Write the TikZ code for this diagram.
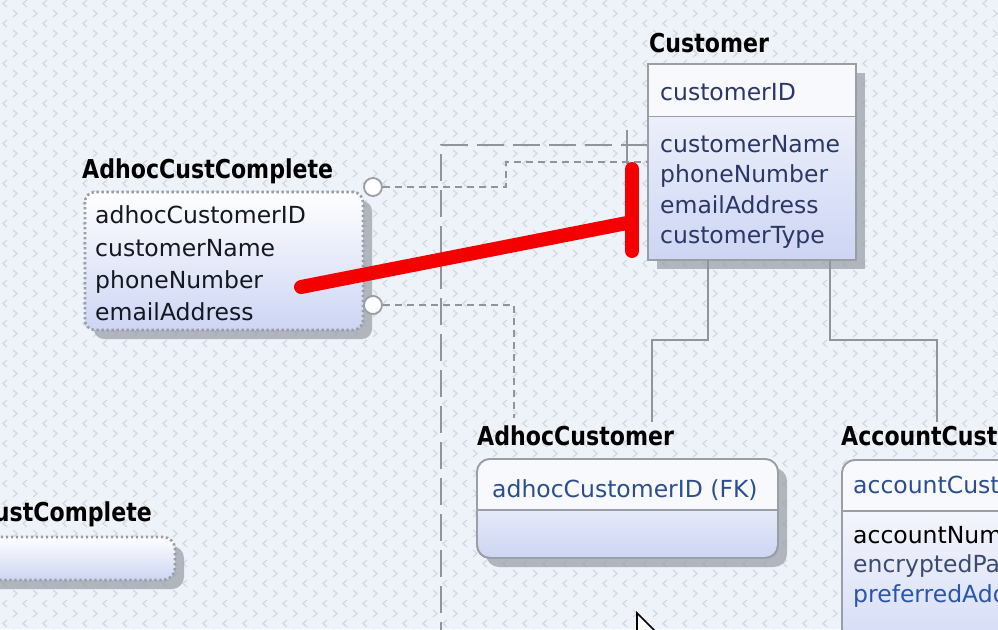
\documentclass[tikz,border=0pt]{standalone}
\usepackage{fontspec}
\setmainfont{DejaVu Sans}
\newfontfamily\titlefont[FakeStretch=0.85]{DejaVu Sans Bold}
\usetikzlibrary{shadows,patterns}

\definecolor{bgc}{HTML}{EEF3F9}
\definecolor{chevc}{HTML}{D2D8E1}
\definecolor{boxc}{HTML}{999EA7}
\definecolor{shadc}{HTML}{9DA1AA}
\definecolor{linec}{HTML}{8F949D}
\definecolor{navy}{HTML}{2B3766}
\definecolor{fkblue}{HTML}{2D4E8E}
\definecolor{pblue}{HTML}{2A56A8}
\definecolor{encc}{HTML}{3B4B70}
\definecolor{inkc}{HTML}{141820}
\definecolor{redc}{HTML}{F40000}
\definecolor{keyc}{HTML}{F8F9FD}
\definecolor{gradtop}{HTML}{F7F9FE}
\definecolor{gradbot}{HTML}{CDD5F3}

\pgfdeclarepatternformonly{chevrons}{\pgfqpoint{-1pt}{-1pt}}{\pgfqpoint{21pt}{21pt}}{\pgfqpoint{20pt}{20pt}}{%
  \pgfsetlinewidth{1.2pt}%
  \pgfpathmoveto{\pgfqpoint{7pt}{2pt}}\pgfpathlineto{\pgfqpoint{3pt}{5.5pt}}\pgfpathlineto{\pgfqpoint{7pt}{9pt}}%
  \pgfpathmoveto{\pgfqpoint{13pt}{12pt}}\pgfpathlineto{\pgfqpoint{17pt}{15.5pt}}\pgfpathlineto{\pgfqpoint{13pt}{19pt}}%
  \pgfusepath{stroke}}

\begin{document}
\begin{tikzpicture}[x=1pt,y=-1pt,
  ttl/.style={font=\titlefont\fontsize{26}{30}\selectfont, anchor=base west, inner sep=0pt, text=black},
  att/.style={font=\fontsize{23.5}{30}\selectfont, anchor=base west, inner sep=0pt, text=navy},
  entbox/.style={draw=boxc, line width=1.8pt, anchor=north west, inner sep=0pt, outer sep=0pt,
     top color=gradtop, bottom color=gradbot,
     drop shadow={shadow xshift=9pt, shadow yshift=-9pt, fill=shadc, opacity=0.75}},
  dotbox/.style={entbox, draw=none},
  dotedge/.style={draw=boxc, line width=2.6pt, dash pattern=on 2.4pt off 2.6pt},
  rel/.style={draw=linec, line width=1.8pt},
  sdash/.style={draw=linec, line width=1.8pt, dash pattern=on 7pt off 5pt},
  ldash/.style={draw=linec, line width=2.4pt, dash pattern=on 27pt off 9pt},
  redmark/.style={draw=redc, line width=14pt, line cap=round},
  port/.style={circle, draw=boxc, fill=white, line width=1.8pt, minimum size=18pt, inner sep=0pt}]

\useasboundingbox (0,0) rectangle (998,629);
\begin{scope}
\clip (0,0) rectangle (998,629);
\fill[bgc] (0,0) rectangle (998,629);
\fill[pattern=chevrons, pattern color=chevc] (0,0) rectangle (998,629);

% ---------- connectors behind ----------
\coordinate (ldstart) at (648,145);
\draw[ldash] (ldstart) -| (441,660);
\coordinate (tick) at (627,130);
\draw[rel] (tick) -- ++(0,34);

% ---------- Customer ----------
\node[ttl] (custT) at (649,52) {Customer};
\node[entbox, minimum width=208pt, minimum height=196pt] (cust) at (648,64) {};
\fill[keyc] ([xshift=0.9pt,yshift=-0.9pt]cust.north west) rectangle ([xshift=-0.9pt,yshift=-52.5pt]cust.north east);
\draw[boxc, line width=1.8pt] ([yshift=-52.5pt]cust.north west) -- ([yshift=-52.5pt]cust.north east);
\node[att] (custK) at (660,100) {customerID};
\node[att] (custA1) at (660,152) {customerName};
\node[att] (custA2) at (660,182.5) {phoneNumber};
\node[att] (custA3) at (660,213) {emailAddress};
\node[att] (custA4) at (660,243) {customerType};

% ---------- AdhocCustComplete ----------
\node[ttl] (accT) at (82,178) {AdhocCustComplete};
\node[dotbox, minimum width=278pt, minimum height=138pt, rounded corners=10pt, top color=white, bottom color=gradbot] (acc) at (85,192) {};
\draw[dotedge, rounded corners=10pt] (acc.north west) rectangle (acc.south east);
\node[att, text=inkc] (accA1) at (95,223) {adhocCustomerID};
\node[att, text=inkc] (accA2) at (95,256) {customerName};
\node[att, text=inkc] (accA3) at (95,288.5) {phoneNumber};
\node[att, text=inkc] (accA4) at (95,320.5) {emailAddress};
\node[port] (cir1) at (373,187) {};
\node[port] (cir2) at (373,305) {};

% dashed view links
\draw[sdash] (cir1.east) -- ++(123,0) -- ++(0,-25) -- (cust.west);
\draw[sdash] (cir2.east) -- ++(131,0) -- ++(0,113);

% ---------- AdhocCustomer ----------
\node[ttl] (adcT) at (477,445) {AdhocCustomer};
\node[entbox, minimum width=301pt, minimum height=99pt, rounded corners=13pt, top color=white, bottom color=gradbot] (adc) at (477,459) {};
\begin{scope}
\clip[rounded corners=13pt] (adc.north west) rectangle (adc.south east);
\fill[keyc] (adc.north west) rectangle ([yshift=-51pt]adc.north east);
\end{scope}
\draw[boxc, line width=1.8pt, rounded corners=13pt] (adc.north west) rectangle (adc.south east);
\draw[boxc, line width=1.8pt] ([yshift=-51pt]adc.north west) -- ([yshift=-51pt]adc.north east);
\node[att, text=fkblue] (adcK) at (492,497) {adhocCustomerID (FK)};

% ---------- AccountCustomer ----------
\node[ttl] (actT) at (841,445) {AccountCustomer};
\node[entbox, minimum width=220pt, minimum height=220pt, rounded corners=13pt, top color=white, bottom color=gradbot] (act) at (842,460) {};
\begin{scope}
\clip[rounded corners=13pt] (act.north west) rectangle (act.south east);
\fill[keyc] (act.north west) rectangle ([yshift=-51pt]act.north east);
\end{scope}
\draw[boxc, line width=1.8pt, rounded corners=13pt] (act.north west) rectangle (act.south east);
\draw[boxc, line width=1.8pt] ([yshift=-51pt]act.north west) -- ([yshift=-51pt]act.north east);
\node[att, text=fkblue] (actK) at (853,493) {accountCustomerID};
\node[att, text=black] (actA1) at (853,543) {accountNumber};
\node[att, text=encc] (actA2) at (853,572) {encryptedPassword};
\node[att, text=pblue] (actA3) at (853,602.5) {preferredAddress};

% subtype links
\draw[rel] ([xshift=60pt]cust.south west) -- ++(0,80) -- ++(-56,0) -- ++(0,82);
\draw[rel] ([xshift=182pt]cust.south west) -- ++(0,80) -- ++(107,0) -- ++(0,82);

% ---------- bottom-left partial entity ----------
\node[ttl, anchor=base east] (bcT) at (152,521) {CustComplete};
\node[dotbox, minimum width=215pt, minimum height=43pt, rounded corners=12pt, top color=white, bottom color=gradbot] (bc) at (-40,537) {};
\draw[dotedge, rounded corners=12pt] (bc.north west) rectangle (bc.south east);

% ---------- red annotation ----------
\coordinate (rtop) at (632,169);
\coordinate (rbot) at (632,251);
\coordinate (rmid) at (632,222);
\coordinate (rleft) at (301,287);
\draw[redmark] (rtop) -- (rbot);
\draw[redmark] (rleft) -- (rmid);

% ---------- mouse pointer ----------
\coordinate (tip) at (637,613);
\draw[black, line width=1.6pt, fill=white, line join=miter] (637,645) -- (tip) -- (669,645);
\end{scope}
\end{tikzpicture}
\end{document}
